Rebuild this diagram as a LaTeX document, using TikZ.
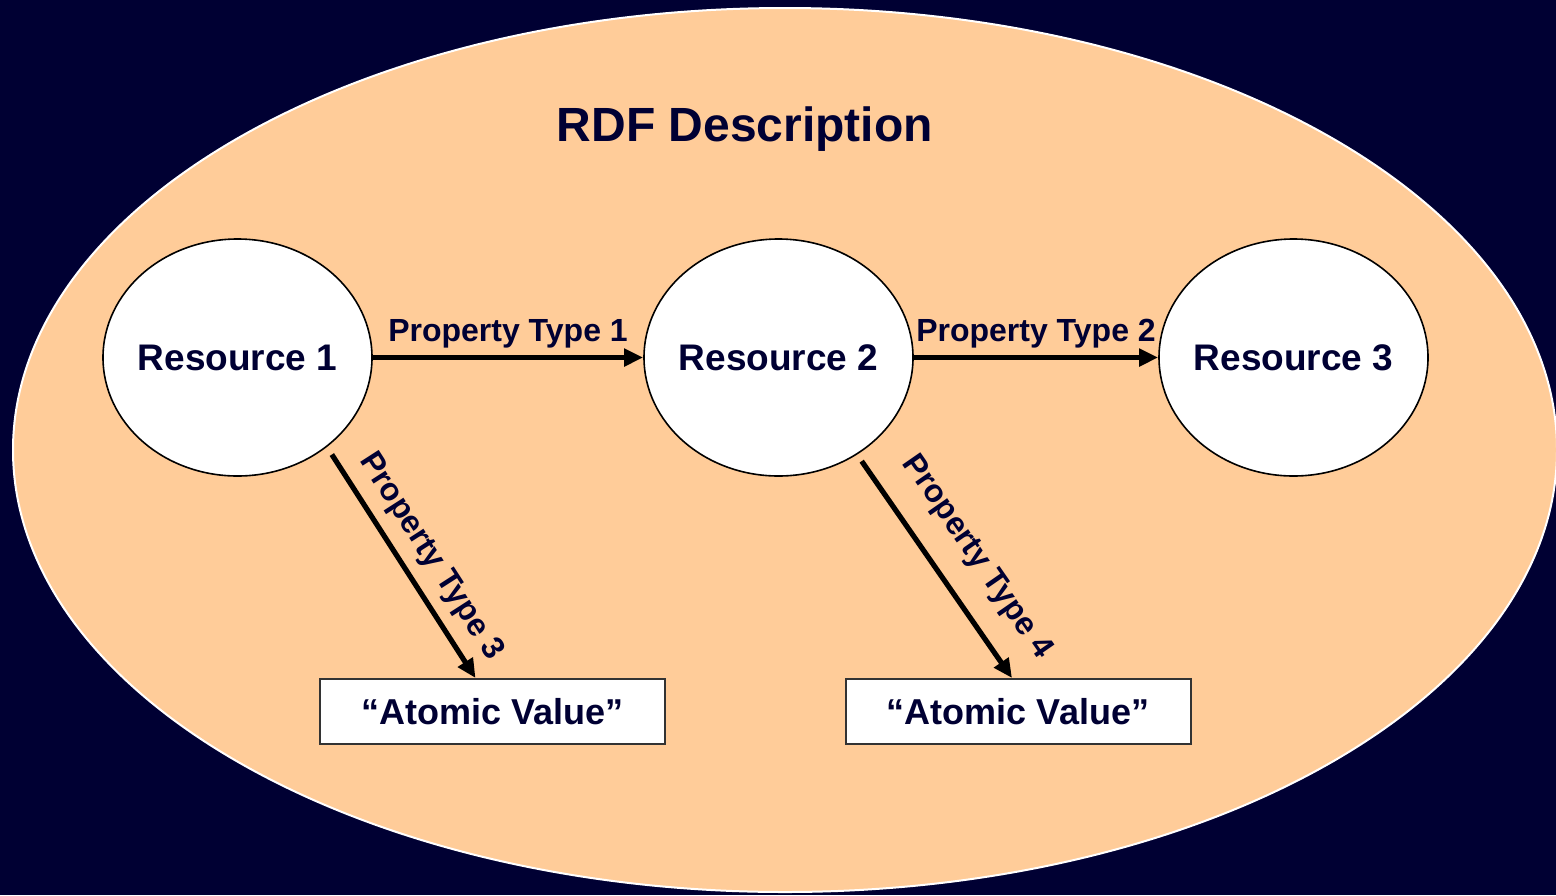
\documentclass[tikz,border=0pt]{standalone}
\usepackage{fontspec}
\setmainfont{Liberation Sans}
\usetikzlibrary{arrows.meta,shapes.geometric}
\definecolor{navy}{HTML}{000033}
\definecolor{peach}{HTML}{FFCC99}

\begin{document}
\begin{tikzpicture}[x=0.5pt, y=-0.5pt,
  res/.style={draw, ellipse, fill=white, line width=0.8pt, inner xsep=-14pt, inner ysep=0pt, minimum width=134.5pt, minimum height=118.5pt, text=navy, font=\bfseries\fontsize{18.5}{20}\selectfont},
  val/.style={draw=black!80, fill=white, line width=1pt, minimum width=172.5pt, minimum height=32.5pt, text=navy, font=\bfseries\fontsize{18}{20}\selectfont},
  lbl/.style={text=navy, font=\bfseries\fontsize{16}{18}\selectfont},
  arr/.style={-{Triangle[length=9.5pt, width=8.5pt]}, line width=2.6pt}
]
\useasboundingbox (0,0) rectangle (1556,895);
\fill[navy] (0,0) rectangle (1556,895);
\begin{scope}
\clip (0,0) rectangle (1556,895);
\filldraw[fill=peach, draw=white, line width=1pt] (785,450) ellipse [x radius=386pt, y radius=221pt];
\end{scope}

\node[text=navy, font=\bfseries\fontsize{24}{28}\selectfont] (title) at (745,129) {RDF Description};

\node[res] (res1) at (237.5,357.5) {Resource 1};
\node[res] (res2) at (778.5,357.5) {Resource 2};
\node[res] (res3) at (1293.5,357.5) {Resource 3};

\node[val] (val1) at (492.5,711.5) {“Atomic Value”};
\node[val] (val2) at (1018,711.5) {“Atomic Value”};

\draw[arr] (res1) -- (res2) node[lbl, midway, above=0pt] {Property Type 1};
\draw[arr] (res2) -- (res3) node[lbl, midway, above=0pt] {Property Type 2};
\draw[arr, shorten <=4.5pt] (res1.-45) -- ([xshift=-8.5pt]val1.north)
  node[lbl, sloped, pos=0.54, above=2pt] {Property Type 3};
\draw[arr, shorten <=4pt] (res2.-51) -- ([xshift=-3pt]val2.north)
  node[lbl, sloped, pos=0.56, above=8pt] {Property Type 4};
\end{tikzpicture}
\end{document}
